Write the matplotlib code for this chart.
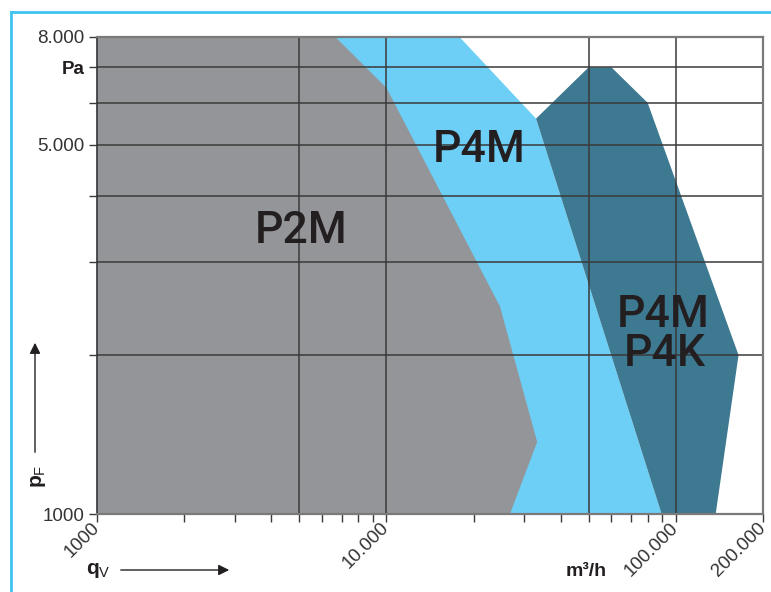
import matplotlib
matplotlib.use("Agg")
import matplotlib.pyplot as plt
from matplotlib.ticker import FixedLocator, NullFormatter
from matplotlib.lines import Line2D

# operating ranges: flow q_V (m3/h) and pressure p_F (Pa)
p2m_flow = [1000, 1000, 6640, 10000, 24700, 33200, 26700]
p2m_pa = [1000, 8000, 8000, 6400, 2470, 1370, 1000]

p4m_flow = [1000, 1000, 17850, 32900, 89500]
p4m_pa = [1000, 8000, 8000, 5600, 1000]

p4k_flow = [32900, 50000, 60000, 80000, 165000, 137500, 89500]
p4k_pa = [5600, 7000, 7000, 6000, 2000, 1000, 1000]

x_major = [1000, 10000, 100000, 200000]
x_labels = ["1000", "10.000", "100.000", "200.000"]
x_minor = [2000, 3000, 4000, 5000, 6000, 7000, 8000, 9000,
           20000, 30000, 40000, 50000, 60000, 70000, 80000, 90000]
y_major = [1000, 5000, 7000, 8000]
y_labels = ["1000", "5.000", "Pa", "8.000"]
y_minor = [2000, 3000, 4000, 6000]
x_grid = [5000, 10000, 50000, 100000]
y_grid = [2000, 3000, 4000, 5000, 6000, 7000]

plt.rcParams['font.family'] = ['Liberation Sans', 'DejaVu Sans']
plt.rcParams['mathtext.fontset'] = 'custom'
plt.rcParams['mathtext.rm'] = 'Liberation Sans'
plt.rcParams['mathtext.bf'] = 'Liberation Sans:bold'

txt = '#231f20'
grid_c = '#3a3a3a'

fig = plt.figure(figsize=(7.71, 5.92), dpi=100)
ax = fig.add_axes([97.3 / 771, 1 - 514.3 / 592, (762.7 - 97.3) / 771, (514.3 - 36.7) / 592])
ax.set_xscale('log')
ax.set_yscale('log')
ax.set_xlim(1000, 200000)
ax.set_ylim(1000, 8000)

ax.fill(p4m_flow, p4m_pa, color='#6dcff6', lw=0, zorder=1)
ax.fill(p2m_flow, p2m_pa, color='#939598', lw=0, zorder=2)
ax.fill(p4k_flow, p4k_pa, color='#3d7991', lw=0, zorder=3)

for gx in x_grid:
    ax.axvline(gx, color=grid_c, lw=1.1, zorder=4)
for gy in y_grid:
    ax.axhline(gy, color=grid_c, lw=1.1, zorder=4)

big = dict(fontsize=32, color=txt, ha='center', va='baseline', zorder=5,
           family=['Roboto', 'Liberation Sans'], fontweight='medium')
ax.text(5050, 3260, "P2M", **big)
ax.text(21000, 4640, "P4M", **big)
ax.text(90900, 2265, "P4M", **big)
ax.text(92000, 1905, "P4K", **big)

ax.xaxis.set_major_locator(FixedLocator(x_major))
ax.xaxis.set_minor_locator(FixedLocator(x_minor))
ax.set_xticklabels(x_labels)
ax.xaxis.set_minor_formatter(NullFormatter())
ax.yaxis.set_major_locator(FixedLocator(y_major))
ax.yaxis.set_minor_locator(FixedLocator(y_minor))
ax.set_yticklabels(y_labels)
ax.yaxis.set_minor_formatter(NullFormatter())

ax.tick_params(which='both', direction='out', length=6, width=1, color=grid_c,
               labelsize=13.5, labelcolor='#333333', pad=3)
ax.tick_params(axis='x', pad=2)
for lab in ax.get_xticklabels():
    lab.set_rotation(45)
    lab.set_ha('right')
    lab.set_va('center')
    lab.set_rotation_mode('anchor')
for lab in ax.get_yticklabels():
    if lab.get_text() == "Pa":
        lab.set_fontweight('bold')
        lab.set_color(txt)

ax.spines['left'].set_color('#333333')
ax.spines['left'].set_linewidth(1.2)
for s in ['top', 'right', 'bottom']:
    ax.spines[s].set_color('#7a7a7a')
    ax.spines[s].set_linewidth(1.6)
for s in ax.spines.values():
    s.set_zorder(6)

# axis titles with arrows
fig.text(98 / 771, 1 - 570 / 592, r'$\mathbf{q}_{\mathrm{V}}$', fontsize=15, color=txt,
         ha='center', va='center')
fig.add_artist(plt.Annotation('', xy=(232 / 771, 1 - 570 / 592), xytext=(118 / 771, 1 - 570 / 592),
                              xycoords='figure fraction',
                              arrowprops=dict(arrowstyle='-|>', color=txt, lw=1, mutation_scale=16)))
fig.text(38 / 771, 1 - 476 / 592, r'$\mathbf{p}_{\mathrm{F}}$', fontsize=15, color=txt,
         ha='center', va='center', rotation=90)
fig.add_artist(plt.Annotation('', xy=(35 / 771, 1 - 340 / 592), xytext=(35 / 771, 1 - 455 / 592),
                              xycoords='figure fraction',
                              arrowprops=dict(arrowstyle='-|>', color=txt, lw=1, mutation_scale=16)))
fig.text(586 / 771, 1 - 572 / 592, "m³/h", fontsize=14, fontweight='bold', color=txt,
         ha='center', va='center')

# light blue frame
frame = '#3fc4ef'
fig.add_artist(Line2D([11 / 771, 1], [1 - 12 / 592, 1 - 12 / 592], color=frame, lw=2))
fig.add_artist(Line2D([11 / 771, 11 / 771], [0, 1 - 12 / 592], color=frame, lw=2))

fig.savefig('out.png', dpi=100)
